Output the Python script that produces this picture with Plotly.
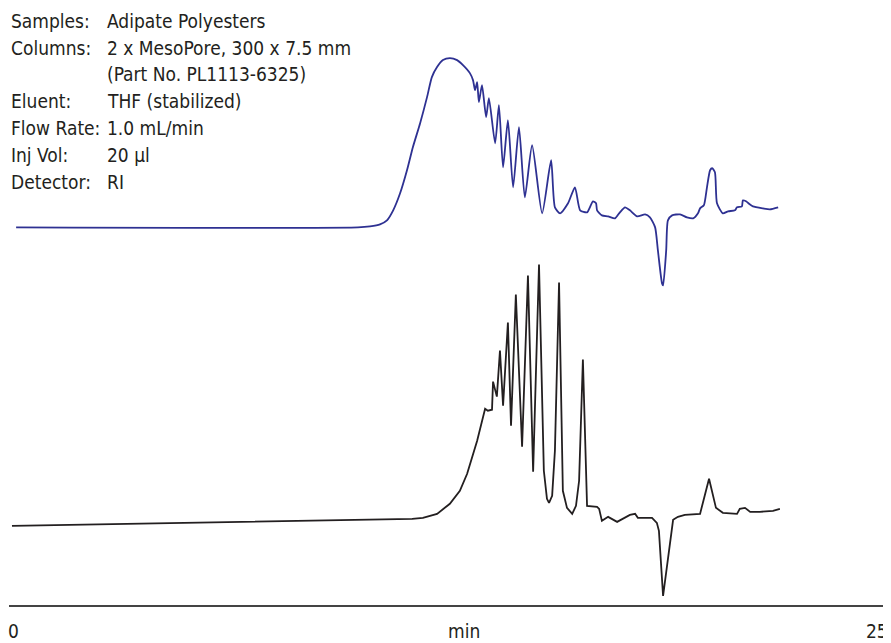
import plotly.graph_objects as go

# --- data (time in min, detector response in arbitrary units) ---
# upper trace (blue)
t_top = [0.09, 9.98, 10.33, 10.62, 10.82, 11.00, 11.20, 11.40, 11.57, 11.78, 11.98, 12.12,
         12.27, 12.44, 12.64, 12.85, 13.02, 13.22, 13.31, 13.37, 13.43, 13.48, 13.57, 13.69,
         13.77, 13.95, 14.06, 14.18, 14.32, 14.47, 14.64, 14.81, 15.02, 15.31, 15.57, 15.68,
         15.83, 16.06, 16.26, 16.41, 16.61, 16.78, 16.87, 16.90, 17.04, 17.22, 17.42, 17.56,
         17.71, 17.85, 18.06, 18.29, 18.43, 18.58, 18.66, 18.78, 18.81, 18.90, 18.95, 19.07,
         19.30, 19.50, 19.68, 19.82, 19.88, 19.99, 20.08, 20.17, 20.23, 20.31, 20.37, 20.54,
         20.69, 20.89, 20.95, 21.09, 21.12, 21.21, 21.32, 21.41, 21.70, 21.90, 22.14]
r_top = [0, 0, 1, 3, 7, 17, 34, 57, 80, 104, 130, 150,
         160, 167, 169, 167, 162, 154, 147, 137, 145, 125, 142, 110,
         129, 84, 122, 60, 107, 40, 100, 30, 82, 14, 67, 20,
         14, 24, 40, 17, 15, 26, 24, 17, 12, 11, 9, 15,
         20, 17, 11, 13, 10, 0, -23, -56, -58, -23, 7, 12,
         13, 10, 9, 14, 19, 22, 40, 57, 59, 55, 24, 14,
         16, 17, 20, 21, 27, 26, 23, 21, 19, 18, 20]

# lower trace (black)
t_bot = [-0.03, 5.41, 11.55, 11.86, 12.27, 12.64, 12.93, 13.14, 13.43, 13.66, 13.74, 13.86,
         13.89, 14.00, 14.09, 14.18, 14.32, 14.41, 14.55, 14.73, 14.90, 15.05, 15.22, 15.36,
         15.45, 15.51, 15.60, 15.68, 15.80, 15.91, 16.03, 16.18, 16.29, 16.38, 16.49, 16.61,
         16.90, 16.96, 17.04, 17.22, 17.48, 17.85, 18.00, 18.08, 18.49, 18.63, 18.69, 18.81,
         18.92, 19.10, 19.24, 19.44, 19.88, 20.14, 20.34, 20.54, 20.95, 21.03, 21.18, 21.33,
         21.61, 21.99, 22.19]
r_bot = [0, 3, 7, 8, 12, 22, 35, 52, 85, 117, 115, 116,
         144, 129, 175, 120, 203, 100, 231, 79, 250, 54, 261, 55,
         27, 23, 30, 75, 243, 35, 18, 12, 20, 45, 166, 20,
         19, 17, 5, 9, 4, 11, 12, 8, 8, 3, -5, -70,
         -42, 6, 9, 11, 12, 47, 18, 13, 12, 17, 18, 14,
         14, 15, 17]

top_offset = 298  # vertical offset of the upper chromatogram

axis_ticks = [0, 25]
axis_title = "min"
axis_title_at = 13.05

conditions = [("Samples:", "Adipate Polyesters"),
              ("Columns:", "2 x MesoPore, 300 x 7.5 mm"),
              ("", "(Part No. PL1113-6325)"),
              ("Eluent:", "THF (stabilized)"),
              ("Flow Rate:", "1.0 mL/min"),
              ("Inj Vol:", "20 µl"),
              ("Detector:", "RI")]

FONT = "Liberation Sans Narrow, DejaVu Sans Condensed, Arial Narrow, sans-serif"
TXT = "#231f20"

fig = go.Figure()
fig.add_trace(go.Scatter(x=t_top, y=[v + top_offset for v in r_top], mode="lines",
                         line=dict(color="#2e3192", width=1.8, shape="spline", smoothing=0.6),
                         hoverinfo="skip"))
fig.add_trace(go.Scatter(x=t_bot, y=r_bot, mode="lines",
                         line=dict(color="#231f20", width=1.8),
                         hoverinfo="skip"))

# condition block (page has an 8px body margin, plot area is 596px tall)
for i, (lab, val) in enumerate(conditions):
    y = 1 - (20.7 + 26.8 * i - 8) / 596
    if lab:
        fig.add_annotation(x=0.0, y=y, xref="paper", yref="paper", text=lab,
                           showarrow=False, xanchor="left", yanchor="middle",
                           font=dict(family=FONT, size=19, color=TXT))
    fig.add_annotation(x=0.1095, y=y, xref="paper", yref="paper", text=val,
                       showarrow=False, xanchor="left", yanchor="middle",
                       font=dict(family=FONT, size=19, color=TXT))

# axis labels below the baseline
for v in axis_ticks:
    fig.add_annotation(x=v, y=-0.0436, xref="x", yref="paper", text=str(v),
                       showarrow=False, yanchor="middle",
                       font=dict(family=FONT, size=19, color=TXT))
fig.add_annotation(x=axis_title_at, y=-0.0436, xref="x", yref="paper", text=axis_title,
                   showarrow=False, yanchor="middle",
                   font=dict(family=FONT, size=19, color=TXT))

fig.update_xaxes(range=[-0.116, 25.376], showgrid=False, zeroline=False,
                 showline=True, linecolor="#444444", linewidth=1.5,
                 showticklabels=False, ticks="")
fig.update_yaxes(range=[-79, 517], visible=False)

fig.update_layout(width=883, height=635, margin=dict(l=1, r=1, t=0, b=38),
                  plot_bgcolor="white", paper_bgcolor="white", showlegend=False)

fig.write_html("out.html")
